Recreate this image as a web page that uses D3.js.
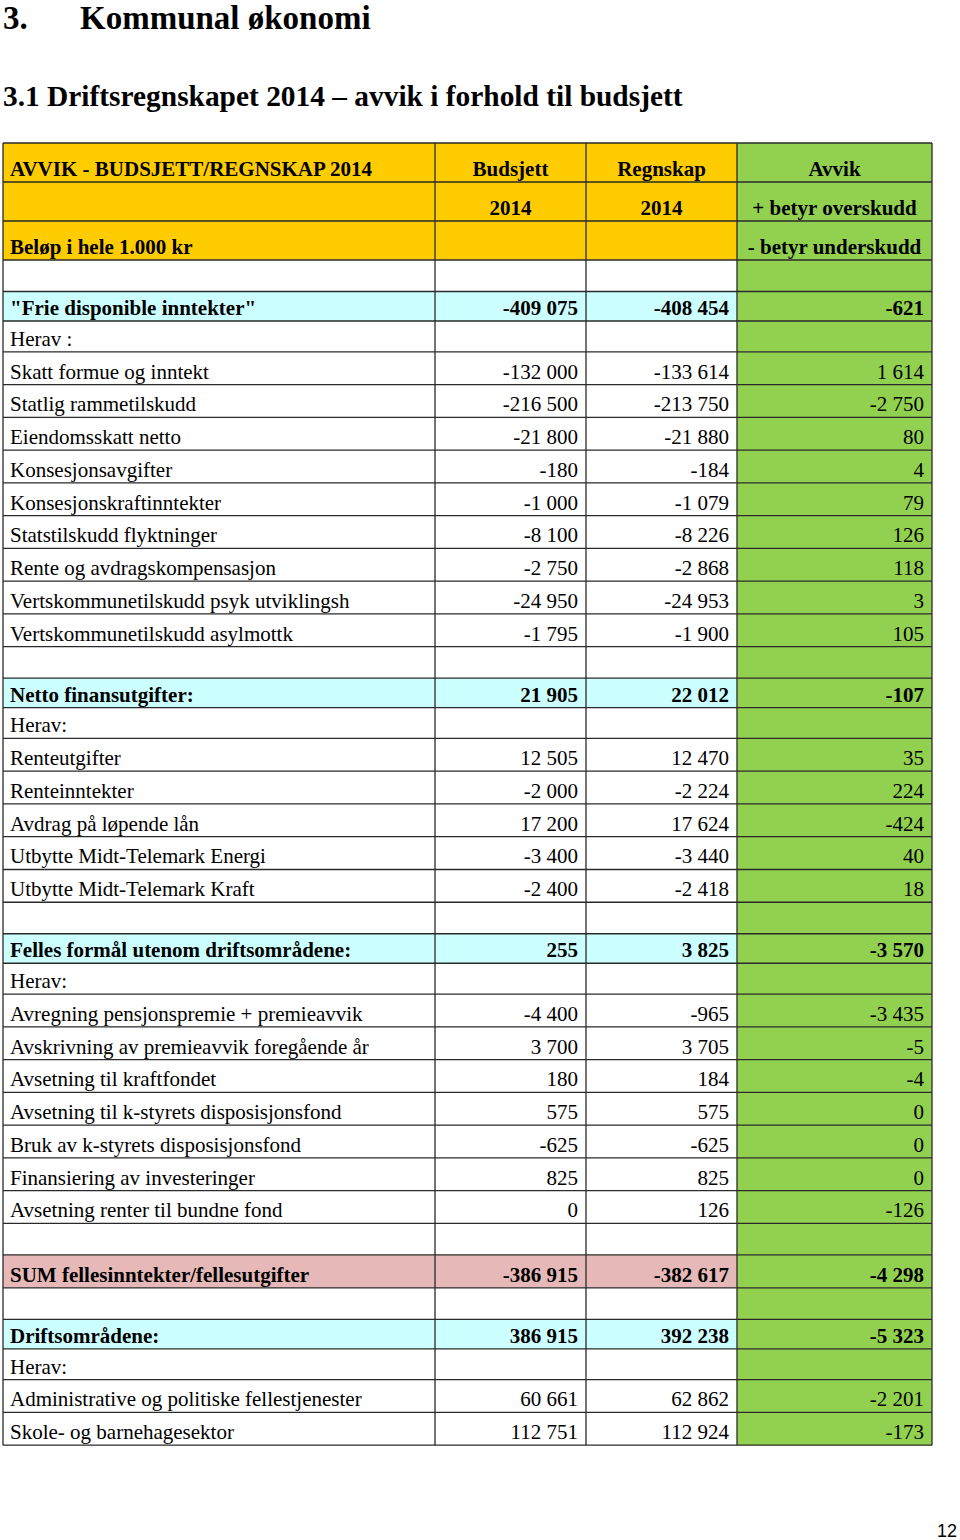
<!DOCTYPE html>
<html>
<head>
<meta charset="utf-8">
<script src="https://cdn.jsdelivr.net/npm/d3@7"></script>
<style>
  body { margin: 0; background: #fff; }
  text { font-family: "Liberation Serif", "Times New Roman", serif; fill: #000; }
</style>
</head>
<body>
<svg id="chart"></svg>
<script>
// header rows of the table
const headRows = [
  ["AVVIK - BUDSJETT/REGNSKAP 2014", "Budsjett", "Regnskap", "Avvik"],
  ["", "2014", "2014", "+ betyr overskudd"],
  ["Beløp i hele 1.000 kr", "", "", "- betyr underskudd"]
];

// body rows: label, kind, budsjett, regnskap, avvik
const labels = [
  "", "\"Frie disponible inntekter\"", "Herav :", "Skatt formue og inntekt", "Statlig rammetilskudd",
  "Eiendomsskatt netto", "Konsesjonsavgifter", "Konsesjonskraftinntekter", "Statstilskudd flyktninger",
  "Rente og avdragskompensasjon", "Vertskommunetilskudd psyk utviklingsh", "Vertskommunetilskudd asylmottk",
  "", "Netto finansutgifter:", "Herav:", "Renteutgifter", "Renteinntekter", "Avdrag på løpende lån",
  "Utbytte Midt-Telemark Energi", "Utbytte Midt-Telemark Kraft",
  "", "Felles formål utenom driftsområdene:", "Herav:", "Avregning pensjonspremie + premieavvik",
  "Avskrivning av premieavvik foregående år", "Avsetning til kraftfondet", "Avsetning til k-styrets disposisjonsfond",
  "Bruk av k-styrets disposisjonsfond", "Finansiering av investeringer", "Avsetning renter til bundne fond",
  "", "SUM fellesinntekter/fellesutgifter", "", "Driftsområdene:", "Herav:",
  "Administrative og politiske fellestjenester", "Skole- og barnehagesektor"
];
const kinds = [
  "blank", "sec", "herav", "item", "item", "item", "item", "item", "item", "item", "item", "item",
  "blank", "sec", "herav", "item", "item", "item", "item", "item",
  "blank", "sec", "herav", "item", "item", "item", "item", "item", "item", "item",
  "blank", "sum", "blank", "sec", "herav", "item", "item"
];
const budsjett = [
  null, -409075, null, -132000, -216500, -21800, -180, -1000, -8100, -2750, -24950, -1795,
  null, 21905, null, 12505, -2000, 17200, -3400, -2400,
  null, 255, null, -4400, 3700, 180, 575, -625, 825, 0,
  null, -386915, null, 386915, null, 60661, 112751
];
const regnskap = [
  null, -408454, null, -133614, -213750, -21880, -184, -1079, -8226, -2868, -24953, -1900,
  null, 22012, null, 12470, -2224, 17624, -3440, -2418,
  null, 3825, null, -965, 3705, 184, 575, -625, 825, 126,
  null, -382617, null, 392238, null, 62862, 112924
];
const avvik = [
  null, -621, null, 1614, -2750, 80, 4, 79, 126, 118, 3, 105,
  null, -107, null, 35, 224, -424, 40, 18,
  null, -3570, null, -3435, -5, -4, 0, 0, 0, -126,
  null, -4298, null, -5323, null, -2201, -173
];

const width = 960, height = 1540;
const svg = d3.select("#chart").attr("width", width).attr("height", height);

const fmt = d3.formatLocale({decimal: ",", thousands: " ", grouping: [3], currency: ["", ""], minus: "-"}).format(",d");

// columns
const colEdges = [3, 435, 586, 737, 932];
const colX = d3.scaleOrdinal().domain([0, 1, 2, 3]).range(colEdges.slice(0, 4));
const colW = d3.scaleOrdinal().domain([0, 1, 2, 3]).range(d3.pairs(colEdges).map(p => p[1] - p[0]));

// rows
const headTop = 143, headH = 39;
const kindH = {blank: 31.5, sec: 29.5, sum: 33, herav: 30.8, item: 32.76};
const bodyTop = headTop + headH * headRows.length;
const offs = [0, ...d3.cumsum(kinds, k => kindH[k])];
const rowY = i => bodyTop + offs[i];
const rowH = i => kindH[kinds[i]];

const colors = {head: "#FFCC00", avvik: "#92D050", sec: "#CCFFFF", sum: "#E6B8B7", plain: "#FFFFFF"};
const fs = 21;

// titles
svg.append("text").attr("x", 3).attr("y", 29).style("font-size", "33px").style("font-weight", "bold").text("3.");
svg.append("text").attr("x", 80).attr("y", 29).style("font-size", "33px").style("font-weight", "bold").text("Kommunal økonomi");
svg.append("text").attr("x", 3).attr("y", 106).style("font-size", "29.4px").style("font-weight", "bold")
  .text("3.1 Driftsregnskapet 2014 – avvik i forhold til budsjett");

// header cells
const head = svg.append("g");
headRows.forEach((row, r) => {
  row.forEach((t, c) => {
    const y = headTop + r * headH;
    head.append("rect").attr("x", colX(c)).attr("y", y).attr("width", colW(c)).attr("height", headH)
      .attr("fill", c === 3 ? colors.avvik : colors.head);
    if (t) {
      head.append("text")
        .attr("x", c === 0 ? colX(c) + 7 : colX(c) + colW(c) / 2)
        .attr("y", y + headH - 6)
        .attr("text-anchor", c === 0 ? "start" : "middle")
        .style("font-size", fs + "px").style("font-weight", "bold")
        .text(t);
    }
  });
});

// body cells
const body = svg.append("g");
labels.forEach((lab, i) => {
  const k = kinds[i];
  const y = rowY(i), h = rowH(i);
  const bold = (k === "sec" || k === "sum");
  const fill = k === "sec" ? colors.sec : k === "sum" ? colors.sum : colors.plain;
  const vals = [lab, budsjett[i], regnskap[i], avvik[i]];
  vals.forEach((v, c) => {
    body.append("rect").attr("x", colX(c)).attr("y", y).attr("width", colW(c)).attr("height", h)
      .attr("fill", c === 3 ? colors.avvik : fill);
    if (v === null || v === "") return;
    body.append("text")
      .attr("x", c === 0 ? colX(c) + 7 : colX(c) + colW(c) - 8)
      .attr("y", y + h - 6)
      .attr("text-anchor", c === 0 ? "start" : "end")
      .style("font-size", fs + "px")
      .style("font-weight", bold ? "bold" : "normal")
      .text(c === 0 ? v : fmt(v));
  });
});

// grid lines
const tableBottom = rowY(labels.length);
const hLines = [headTop, ...d3.range(1, headRows.length + 1).map(r => headTop + r * headH),
  ...d3.range(1, labels.length + 1).map(rowY)];
svg.append("g").selectAll("line.h").data(hLines).join("line")
  .attr("x1", colEdges[0]).attr("x2", colEdges[4])
  .attr("y1", d => d).attr("y2", d => d)
  .attr("stroke", "#2a2a2a").attr("stroke-width", 1.3);
svg.append("g").selectAll("line.v").data(colEdges).join("line")
  .attr("x1", d => d).attr("x2", d => d)
  .attr("y1", headTop).attr("y2", tableBottom)
  .attr("stroke", "#2a2a2a").attr("stroke-width", 1.3);

// page number
svg.append("text").attr("x", 957).attr("y", 1537).attr("text-anchor", "end")
  .style("font-family", "'Liberation Sans', Arial, sans-serif").style("font-size", "18px").text("12");
</script>
</body>
</html>
